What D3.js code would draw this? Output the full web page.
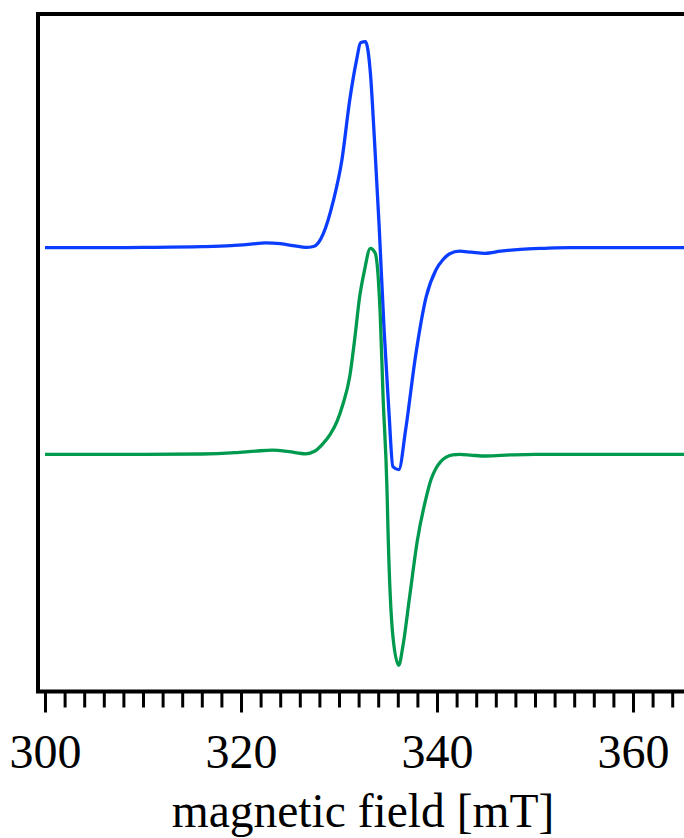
<!DOCTYPE html>
<html>
<head>
<meta charset="utf-8">
<script src="https://cdn.jsdelivr.net/npm/d3@7"></script>
<style>
  html, body { margin: 0; padding: 0; background: #fff; }
  svg { display: block; }
</style>
</head>
<body>
<div class="canvas"></div>
<script>
// data (field in mT, signal in a.u. relative to each baseline)
const blueField  = [300, 305, 310, 316, 319, 321, 322.5, 324, 325.5, 326.6, 327.4, 327.9, 328.4, 329.4, 330.3, 331.1, 331.8, 332.2, 332.7, 333.2, 333.6, 334.1, 334.6, 335.1, 335.5, 336.1, 336.8, 337.8, 338.9, 339.9, 340.6, 341.3, 342.3, 343.5, 344.9, 346.5, 348.5, 351, 353.6, 358, 365.5];
const blueSignal = [0, 0, 0.003, 0.01, 0.02, 0.035, 0.048, 0.04, 0.018, 0.003, 0.012, 0.05, 0.14, 0.46, 0.88, 1.48, 1.88, 2.05, 2.06, 1.75, 1.11, 0.21, -0.82, -1.65, -2.19, -2.22, -1.82, -1.09, -0.49, -0.22, -0.12, -0.06, -0.035, -0.045, -0.056, -0.035, -0.016, -0.006, 0, 0, 0];

const greenField  = [300, 305, 310, 316, 319.4, 321.5, 323.2, 324.9, 326.6, 327.5, 328.3, 329.1, 329.8, 330.4, 331.1, 331.6, 332.1, 332.6, 333.2, 333.7, 334.2, 334.5, 334.9, 335.0, 335.5, 336.1, 336.5, 337.2, 338.0, 338.9, 339.4, 339.9, 340.4, 340.9, 341.6, 342.3, 343.6, 345.0, 347.5, 350, 358, 365.5];
const greenSignal = [0, 0, 0, 0.003, 0.016, 0.032, 0.042, 0.026, 0.005, 0.03, 0.1, 0.2, 0.33, 0.5, 0.78, 1.15, 1.57, 1.84, 2.06, 2.01, 1.41, 0.57, -0.36, -0.76, -1.82, -2.11, -1.93, -1.43, -0.86, -0.43, -0.25, -0.14, -0.07, -0.03, -0.005, 0.0, -0.01, -0.017, -0.006, 0, 0, 0];

// vertical offsets of the two traces (a.u.)
const seriesNames   = ['blue', 'green'];
const seriesOffsets = [0, -2.066];
const seriesColors  = ['#0a3dff', '#009a4e'];

// axis ticks (mT)
const majorTicks = [300, 320, 340, 360];
const minorTicks = d3.range(300, 366, 2);
const xLabel = 'magnetic field [mT]';

// svg
const width = 684, height = 838;
const svg = d3.select('.canvas')
  .append('svg')
    .attr('width', width)
    .attr('height', height);

// frame positions
const frameLeft = 38, frameTop = 14, frameBottom = 691.5, frameRight = width;

// scales
const x = d3.scaleLinear().domain([300, 360]).range([45, 633]);
const y = d3.scaleLinear().domain([-4.438, 2.337]).range([frameBottom, frameTop]);

// traces
const line = d3.line()
  .x(d => x(d[0]))
  .y(d => y(d[1]))
  .curve(d3.curveMonotoneX);

const traces = [
  blueField.map((f, i) => [f, blueSignal[i] + seriesOffsets[0]]),
  greenField.map((f, i) => [f, greenSignal[i] + seriesOffsets[1]])
];

svg.append('defs').append('clipPath').attr('id', 'clip')
  .append('rect')
    .attr('x', frameLeft).attr('y', frameTop)
    .attr('width', frameRight - frameLeft).attr('height', frameBottom - frameTop);

svg.append('g').attr('clip-path', 'url(#clip)')
  .selectAll('path')
  .data(traces)
  .enter()
  .append('path')
    .attr('class', (d, i) => seriesNames[i])
    .attr('d', line)
    .attr('fill', 'none')
    .attr('stroke', (d, i) => seriesColors[i])
    .attr('stroke-width', 3.3)
    .attr('stroke-linejoin', 'round');

// minor + major ticks
const minorAxis = d3.axisBottom(x).tickValues(minorTicks).tickSize(16).tickFormat('');
const majorAxis = d3.axisBottom(x).tickValues(majorTicks).tickSize(21)
  .tickFormat(d3.format('d'));

const gMinor = svg.append('g').attr('transform', `translate(0, ${frameBottom})`).call(minorAxis);
const gMajor = svg.append('g').attr('transform', `translate(0, ${frameBottom})`).call(majorAxis);

[gMinor, gMajor].forEach(g => {
  g.select('.domain').remove();
  g.selectAll('line').attr('stroke', '#000').attr('stroke-width', 3);
});

gMajor.selectAll('text')
  .attr('fill', '#000')
  .attr('font-family', '"Liberation Serif", "Times New Roman", serif')
  .attr('font-size', 48)
  .attr('dy', 0)
  .attr('y', 768 - frameBottom);

// frame: top, left, bottom
svg.append('path')
  .attr('d', `M${frameRight},${frameTop} H${frameLeft} V${frameBottom} H${frameRight}`)
  .attr('fill', 'none')
  .attr('stroke', '#000')
  .attr('stroke-width', 4)
  .attr('stroke-linejoin', 'miter');

// axis title
svg.append('text')
  .attr('x', 363)
  .attr('y', 827)
  .attr('text-anchor', 'middle')
  .attr('font-family', '"Liberation Serif", "Times New Roman", serif')
  .attr('font-size', 47.5)
  .attr('fill', '#000')
  .text(xLabel);
</script>
</body>
</html>
